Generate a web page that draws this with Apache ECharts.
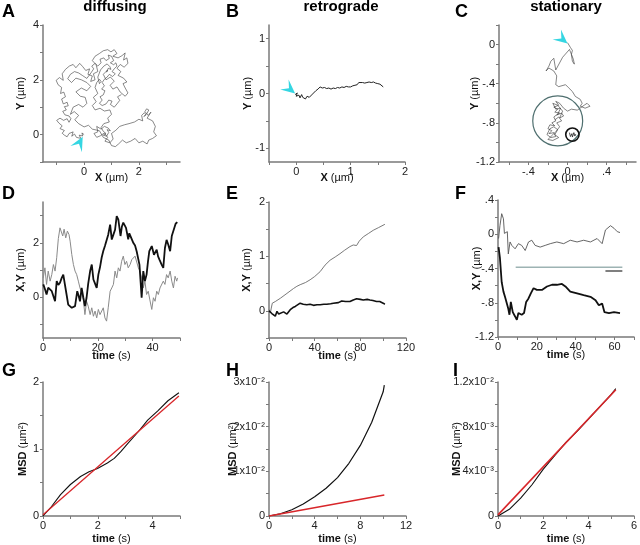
<!DOCTYPE html>
<html><head><meta charset="utf-8">
<script src="https://cdn.jsdelivr.net/npm/echarts@6/dist/echarts.min.js"></script>
<style>html,body{margin:0;padding:0;background:#fff}#c{width:640px;height:545px}</style>
</head><body><div id="c"></div>
<script>
// ---------- DATA ----------
const panelLetters = ['A','B','C','D','E','F','G','H','I'];
const columnTitles = ['diffusing','retrograde','stationary'];

const trajA = [[0,0],[-0.08,0.06],[-0.05,-0.05],[-0.18,-0.02],[-0.12,-0.14],[-0.28,-0.1],[-0.35,0.02],[-0.45,-0.06],[-0.4,0.1],[-0.55,0.04],[-0.62,-0.08],[-0.72,-0.02],[-0.8,0.05],[-0.72,0.15],[-0.88,0.22],[-0.8,0.32],[-0.92,0.42],[-1.0,0.52],[-0.88,0.6],[-0.75,0.52],[-0.62,0.58],[-0.55,0.45],[-0.48,0.58],[-0.55,0.68],[-0.7,0.72],[-0.78,0.85],[-0.65,0.9],[-0.72,1.02],[-0.58,1.05],[-0.62,1.18],[-0.76,1.12],[-0.82,1.3],[-0.68,1.38],[-0.74,1.55],[-0.86,1.5],[-0.82,1.72],[-0.95,1.82],[-1.02,1.98],[-0.9,2.08],[-0.76,1.98],[-0.8,2.22],[-0.68,2.38],[-0.54,2.5],[-0.4,2.56],[-0.3,2.44],[-0.16,2.6],[-0.05,2.48],[0.06,2.34],[0.2,2.4],[0.14,2.2],[0.3,2.14],[0.24,1.94],[0.4,2.0],[0.34,2.22],[0.5,2.3],[0.44,2.55],[0.3,2.7],[0.4,2.86],[0.56,2.96],[0.7,3.06],[0.86,3.1],[0.98,3.02],[1.1,3.1],[1.2,2.96],[1.05,2.86],[1.24,2.8],[1.38,2.88],[1.5,2.98],[1.44,2.72],[1.56,2.8],[1.6,2.6],[1.46,2.46],[1.32,2.56],[1.2,2.42],[1.34,2.3],[1.24,2.16],[1.44,2.06],[1.56,1.92],[1.42,1.86],[1.5,1.7],[1.6,1.52],[1.5,1.4],[1.32,1.55],[1.2,1.74],[1.05,1.66],[0.95,1.8],[1.1,1.95],[0.96,2.1],[0.8,2.0],[0.7,2.2],[0.86,2.36],[0.9,2.3],[0.82,2.28],[0.88,2.42],[0.98,2.38],[0.94,2.48],[0.84,2.58],[0.72,2.5],[0.6,2.36],[0.5,2.1],[0.56,1.86],[0.62,1.94],[0.56,2.02],[0.46,1.9],[0.4,1.72],[0.5,1.5],[0.34,1.36],[0.44,1.2],[0.3,1.06],[0.4,0.9],[0.58,0.96],[0.74,0.86],[0.94,0.9],[1.0,0.74],[0.86,0.6],[0.92,0.46],[0.72,0.4],[0.62,0.26],[0.7,0.12],[0.64,0.06],[0.76,0.16],[0.8,0.04],[0.7,-0.02],[0.82,-0.06],[0.9,0.08],[0.84,0.18],[0.96,0.14],[0.88,0.24],[0.74,0.3],[0.62,0.2],[0.46,0.3],[0.5,0.1],[0.36,0.04],[0.46,-0.1],[0.6,-0.04],[0.74,0.06],[0.86,-0.1],[0.76,-0.24],[0.94,-0.3],[1.06,-0.16],[1.0,0.04],[1.16,0.16],[1.3,0.3],[1.48,0.36],[1.64,0.4],[1.84,0.46],[2.0,0.56],[2.14,0.5],[2.1,0.7],[2.2,0.8],[2.26,0.72],[2.18,0.66],[2.3,0.78],[2.36,0.9],[2.28,0.94],[2.22,0.84],[2.24,0.86],[2.34,0.7],[2.44,0.82],[2.3,0.6],[2.5,0.5],[2.6,0.3],[2.54,0.1],[2.64,-0.04],[2.5,-0.14],[2.36,-0.2],[2.3,-0.34],[2.14,-0.24],[2.0,-0.3],[1.86,-0.14],[1.7,-0.24],[1.54,-0.3],[1.4,-0.2],[1.26,-0.34],[1.14,-0.44],[1.0,-0.4],[0.9,-0.2],[0.7,-0.1],[0.56,0.14],[0.3,0.2],[0.16,0.34],[0.0,0.28],[-0.2,0.4],[-0.34,0.54],[-0.2,0.7],[-0.36,0.84],[-0.5,0.74],[-0.4,1.0],[-0.2,1.1],[-0.04,1.0],[0.1,1.14],[0.04,1.36],[-0.14,1.4],[-0.3,1.56],[-0.1,1.7],[0.1,1.6],[0.24,1.76],[0.1,1.9],[-0.1,2.0],[-0.3,2.06],[-0.46,1.9],[-0.6,2.04],[-0.5,2.2],[-0.35,2.3],[-0.2,2.25],[-0.05,2.15],[0.1,2.05],[0.25,2.25],[0.35,2.4],[0.28,2.5],[0.4,2.6],[0.5,2.5],[0.62,2.62],[0.58,2.75],[0.72,2.8],[0.8,2.7],[0.92,2.78],[0.88,2.9],[1.0,2.86],[1.08,2.7],[0.96,2.62],[1.08,2.55],[1.16,2.62],[1.2,2.5],[1.1,2.4],[1.02,2.3],[1.14,2.22],[1.04,2.12],[0.92,2.2],[0.84,2.1],[0.74,2.02],[0.66,1.9],[0.74,1.78],[0.64,1.66],[0.76,1.6],[0.7,1.45],[0.58,1.38],[0.66,1.26],[0.56,1.14],[0.66,1.06],[0.8,1.12],[0.9,1.26],[1.02,1.22],[0.96,1.1],[1.1,1.0],[1.2,1.12],[1.3,1.25],[1.22,1.38],[1.36,1.46]];

const trajB = [[-0.02,-0.02],[0.02,0.01],[0.0,-0.05],[0.05,-0.03],[0.07,-0.08],[0.1,-0.02],[0.12,-0.07],[0.15,-0.04],[0.17,-0.1],[0.2,-0.05],[0.24,-0.07],[0.27,-0.04],[0.3,-0.01],[0.33,0.02],[0.36,0.05],[0.4,0.08],[0.44,0.12],[0.48,0.1],[0.52,0.11],[0.56,0.09],[0.6,0.1],[0.64,0.08],[0.68,0.1],[0.72,0.09],[0.76,0.11],[0.8,0.1],[0.84,0.12],[0.88,0.11],[0.92,0.13],[0.96,0.12],[1.0,0.12],[1.04,0.14],[1.08,0.15],[1.12,0.16],[1.15,0.2],[1.18,0.19],[1.22,0.2],[1.26,0.19],[1.3,0.2],[1.34,0.21],[1.38,0.2],[1.42,0.21],[1.46,0.19],[1.5,0.18],[1.54,0.17],[1.57,0.16],[1.6,0.12]];

const trajC = [[0.0,0.02],[0.03,-0.03],[0.05,-0.06],[0.04,-0.1],[0.06,-0.15],[0.07,-0.2],[0.05,-0.17],[0.04,-0.1],[0.02,-0.05],[-0.05,-0.13],[-0.12,-0.26],[-0.14,-0.14],[-0.17,-0.17],[-0.19,-0.22],[-0.22,-0.27],[-0.19,-0.24],[-0.14,-0.27],[-0.11,-0.32],[-0.12,-0.41],[-0.09,-0.43],[-0.02,-0.41],[0.01,-0.44],[0.05,-0.48],[0.08,-0.53],[0.13,-0.56],[0.15,-0.6],[0.13,-0.63],[0.18,-0.65],[0.23,-0.63],[0.2,-0.6],[0.17,-0.62],[0.1,-0.67],[0.04,-0.66],[0.0,-0.68],[-0.04,-0.65],[-0.08,-0.6],[-0.12,-0.58],[-0.09,-0.62],[-0.14,-0.64],[-0.1,-0.66],[-0.13,-0.69],[-0.08,-0.7],[-0.11,-0.72],[-0.06,-0.7],[-0.04,-0.73],[-0.08,-0.75],[-0.05,-0.68],[-0.1,-0.62],[-0.15,-0.6],[-0.12,-0.66],[-0.07,-0.65],[-0.1,-0.71],[-0.14,-0.74],[-0.12,-0.78],[-0.16,-0.8],[-0.13,-0.83],[-0.18,-0.82],[-0.2,-0.86],[-0.16,-0.88],[-0.19,-0.91],[-0.14,-0.9],[-0.12,-0.94],[-0.17,-0.95],[-0.21,-0.92],[-0.18,-0.86],[-0.14,-0.84],[-0.1,-0.87],[-0.13,-0.92],[-0.09,-0.95],[-0.15,-0.98],[-0.2,-0.97],[-0.16,-0.93],[-0.12,-0.89],[-0.08,-0.84],[-0.11,-0.8],[-0.06,-0.78],[-0.09,-0.74],[-0.13,-0.77]];
const circlesC = [[-0.1,-0.78,0.255],[0.05,-0.92,0.068]];
const insetC = [[0.02,-0.9],[0.03,-0.94],[0.045,-0.91],[0.05,-0.945],[0.065,-0.9],[0.075,-0.935],[0.085,-0.915]];

// tip position of arrowheads [x, y]
const arrowA = [-0.05,-0.08], arrowB = [-0.02,0.0], arrowC = [0.0,0.01];

const dBlack = [[0.1,0.47],[0.7,0.3],[1.3,0.1],[1.9,0.35],[2.6,0.4],[3.2,0.22],[3.8,0.16],[4.4,-0.15],[5.0,0.59],[5.6,0.45],[6.2,0.53],[6.8,0.7],[7.4,0.83],[8.0,0.77],[8.6,0.1],[9.2,-0.27],[9.8,-0.2],[10.5,-0.39],[11.1,-0.45],[11.7,-0.33],[12.5,0.22],[13.0,0.05],[13.5,-0.15],[14.1,0.34],[14.7,0.0],[15.3,-0.33],[15.9,-0.02],[16.5,0.5],[17.2,0.96],[17.8,1.2],[18.4,0.65],[19.0,0.5],[19.6,0.34],[20.2,0.83],[20.8,1.1],[21.4,1.45],[22.0,1.7],[22.6,1.88],[23.2,1.94],[23.8,2.3],[24.5,2.67],[25.1,2.12],[25.7,2.3],[26.3,2.48],[26.9,2.98],[27.5,2.85],[28.3,2.25],[28.8,2.6],[29.3,2.74],[30.3,2.55],[31.1,2.13],[31.5,2.35],[32.0,2.37],[33.0,1.99],[33.6,1.9],[34.2,1.68],[35.2,1.2],[35.6,0.6],[36.0,-0.02],[36.6,0.96],[37.2,0.59],[37.8,0.83],[38.3,1.3],[38.8,1.69],[39.7,1.88],[40.5,1.56],[41.5,1.75],[42.0,1.5],[42.5,1.38],[43.3,1.2],[43.9,1.08],[44.5,1.81],[45.1,2.11],[45.7,1.94],[46.4,1.69],[47.0,2.25],[47.6,2.19],[48.4,2.7],[49.0,2.76]];
const dGray = [[0.1,0.71],[0.7,1.08],[1.3,0.47],[1.9,0.96],[2.6,0.59],[3.2,0.83],[3.8,1.2],[4.4,0.96],[5.0,1.45],[5.6,2.16],[6.2,2.55],[6.6,2.61],[7.2,2.25],[7.7,2.5],[8.3,2.18],[8.9,2.43],[9.5,2.3],[9.9,2.06],[10.5,1.57],[11.1,1.2],[11.7,0.96],[12.3,0.83],[12.9,0.59],[13.5,0.34],[14.1,0.16],[14.7,-0.09],[15.3,-0.64],[15.9,-0.15],[16.5,-0.33],[17.2,-0.64],[17.8,-0.39],[18.4,-0.7],[19.0,-0.51],[19.6,-0.76],[20.2,-0.45],[20.8,-0.64],[21.4,-0.64],[22.0,-0.39],[22.6,-0.76],[23.2,-0.88],[23.8,-0.39],[24.5,0.22],[25.1,0.34],[25.7,0.47],[26.3,0.96],[26.9,0.71],[27.5,1.08],[28.1,0.96],[28.7,1.32],[29.3,1.51],[29.9,1.2],[30.5,1.32],[31.1,1.08],[31.8,1.2],[32.4,1.38],[33.0,1.32],[33.6,1.51],[34.2,1.57],[34.8,1.08],[35.4,0.96],[36.0,0.71],[36.6,0.34],[37.2,0.59],[37.8,0.1],[38.4,0.22],[39.0,-0.1],[39.7,-0.45],[40.3,-0.02],[40.9,-0.15],[41.5,0.22],[42.1,0.1],[42.7,0.34],[43.3,0.28],[43.9,0.59],[44.5,0.47],[45.1,0.83],[45.7,0.71],[46.4,0.96],[47.0,0.59],[47.6,0.34],[48.2,0.77],[48.8,0.59],[49.1,0.71]];

const eGray = [[0,0.02],[1.2,-0.04],[2,0.05],[2.9,0.14],[5.5,0.17],[9.9,0.23],[15.7,0.32],[21.5,0.41],[24.4,0.45],[27.3,0.48],[32,0.52],[36.0,0.57],[40,0.63],[44.8,0.72],[49.1,0.84],[53.5,0.93],[58,0.99],[62.2,1.05],[66,1.11],[70.9,1.18],[73.8,1.21],[76.7,1.2],[79,1.28],[82.6,1.36],[87,1.42],[91.3,1.48],[96,1.53],[101.5,1.59]];
const eBlack = [[0,0],[1.2,-0.02],[2.5,-0.05],[4.1,-0.07],[5.5,-0.1],[7,-0.01],[8.5,-0.06],[9.9,-0.04],[12.8,-0.02],[15.7,-0.06],[18.6,0.02],[21,0.06],[23,0.08],[27.3,0.14],[30,0.12],[33.1,0.11],[36,0.12],[39,0.1],[42,0.11],[44.8,0.11],[48,0.12],[50.6,0.12],[54,0.13],[56.4,0.14],[60.8,0.15],[63.7,0.18],[67,0.17],[70.9,0.17],[73.8,0.2],[76.7,0.22],[80,0.21],[82.6,0.2],[86,0.21],[88.4,0.2],[91,0.19],[94.2,0.17],[97,0.17],[100,0.14],[101.5,0.12]];

const fGray = [[0.3,-0.05],[1,0.1],[1.9,0.24],[2.8,0.18],[3.3,0.01],[4.1,-0.01],[4.8,0.03],[5.3,-0.23],[6.2,-0.09],[7.1,-0.13],[8.8,-0.17],[10.5,-0.11],[12.2,-0.13],[14,-0.19],[15.7,-0.09],[17.4,-0.07],[19.1,-0.13],[21.7,-0.15],[24.3,-0.13],[26.9,-0.11],[30.3,-0.09],[33.8,-0.11],[37.2,-0.07],[40.7,-0.09],[44.1,-0.07],[47.6,-0.09],[51,-0.05],[53.6,-0.11],[55.3,0.05],[57.9,0.1],[59.7,0.07],[61.4,0.03],[62.8,0.02]];
const fBlack = [[0.3,-0.15],[1,-0.28],[1.9,-0.56],[2.8,-0.67],[3.6,-0.73],[4.5,-0.71],[5.3,-0.87],[5.9,-0.94],[6.6,-0.79],[7.6,-0.91],[8.8,-0.96],[9.7,-1.0],[10.5,-0.92],[12.2,-0.94],[13.4,-0.92],[14.5,-0.79],[15.7,-0.75],[16.9,-0.69],[18.3,-0.63],[19.1,-0.61],[20,-0.65],[22.6,-0.65],[25.2,-0.61],[27.8,-0.59],[30.3,-0.59],[32.9,-0.58],[34.7,-0.61],[37.2,-0.67],[40.7,-0.69],[44.1,-0.71],[47.6,-0.73],[50.2,-0.77],[51.9,-0.83],[53.6,-0.81],[54.8,-0.91],[57.1,-0.92],[59.7,-0.91],[62.8,-0.92]];
const fBarLong = [[9.1,-0.385],[64,-0.385]];
const fBarShort = [[55.3,-0.43],[64,-0.43]];

const gBlack = [[0,0],[0.27,0.12],[0.64,0.32],[1.0,0.47],[1.37,0.59],[1.68,0.66],[1.99,0.71],[2.35,0.79],[2.6,0.86],[2.84,0.96],[3.09,1.08],[3.46,1.25],[3.82,1.43],[4.19,1.57],[4.56,1.72],[4.96,1.84]];
const gRed = [[0,0.02],[4.96,1.79]];
const hBlack = [[0,0],[1,0.0005],[2,0.0014],[3,0.0027],[4,0.0043],[5,0.0062],[6,0.0086],[7,0.0118],[8,0.0158],[9,0.021],[10,0.0278],[10.1,0.0293]];
const hRed = [[0,0],[10.1,0.0047]];
const iBlack = [[0,0],[0.5,0.0006],[1,0.0016],[1.5,0.0028],[2,0.0042],[2.5,0.0054],[3,0.0066],[3.5,0.0076],[4,0.0087],[4.5,0.0098],[5,0.0109],[5.2,0.0114]];
const iRed = [[0,0.0001],[5.2,0.0113]];

// axis ranges, ticks and labels
const xTicks = {
  A:{min:-1.5,max:3.5,ticks:[-1,0,1,2,3],labels:[0,2]},
  B:{min:-0.5,max:2,ticks:[-0.5,0,0.5,1,1.5,2],labels:[0,1,2]},
  C:{min:-0.7,max:0.7,ticks:[-0.6,-0.4,-0.2,0,0.2,0.4,0.6],labels:[-0.4,0,0.4]},
  D:{min:0,max:50,ticks:[0,10,20,30,40,50],labels:[0,20,40]},
  E:{min:0,max:120,ticks:[0,20,40,60,80,100,120],labels:[0,40,80,120]},
  F:{min:0,max:70,ticks:[0,10,20,30,40,50,60,70],labels:[0,20,40,60]},
  G:{min:0,max:5,ticks:[0,1,2,3,4,5],labels:[0,2,4]},
  H:{min:0,max:12,ticks:[0,2,4,6,8,10,12],labels:[0,4,8,12]},
  I:{min:0,max:6,ticks:[0,1,2,3,4,5,6],labels:[0,2,4,6]}
};
const yTicks = {
  A:{min:-1,max:4,ticks:[-1,0,1,2,3,4],labels:[0,2,4]},
  B:{min:-1.25,max:1.25,ticks:[-1,-0.5,0,0.5,1],labels:[-1,0,1]},
  C:{min:-1.2,max:0.2,ticks:[-1.2,-1,-0.8,-0.6,-0.4,-0.2,0,0.2],labels:[-1.2,-0.8,-0.4,0]},
  D:{min:-1.5,max:3.5,ticks:[-1,0,1,2,3],labels:[0,2]},
  E:{min:-0.5,max:2,ticks:[-0.5,0,0.5,1,1.5,2],labels:[0,1,2]},
  F:{min:-1.2,max:0.4,ticks:[-1.2,-1,-0.8,-0.6,-0.4,-0.2,0,0.2,0.4],labels:[-1.2,-0.8,-0.4,0,0.4]},
  G:{min:0,max:2,ticks:[0,0.5,1,1.5,2],labels:[0,1,2]},
  H:{min:0,max:0.03,ticks:[0,0.005,0.01,0.015,0.02,0.025,0.03],labels:[0,0.01,0.02,0.03]},
  I:{min:0,max:0.012,ticks:[0,0.002,0.004,0.006,0.008,0.01,0.012],labels:[0,0.004,0.008,0.012]}
};
const sciLabels = {'0.01':'1x10⁻²','0.02':'2x10⁻²','0.03':'3x10⁻²','0.004':'4x10⁻³','0.008':'8x10⁻³','0.012':'1.2x10⁻²'};
const xNames = ['X','X','X','time','time','time','time','time','time'];
const xUnits = [' (µm)',' (µm)',' (µm)',' (s)',' (s)',' (s)',' (s)',' (s)',' (s)'];
const yNames = ['Y','Y','Y','X,Y','X,Y','X,Y','MSD','MSD','MSD'];
const yUnits = [' (µm)',' (µm)',' (µm)',' (µm)',' (µm)',' (µm)',' (µm²)',' (µm²)',' (µm²)'];

// ---------- LAYOUT / STYLE ----------
const FONT = 'Liberation Sans';
const grids = [
  {left:43,top:25,width:137,height:137},
  {left:269,top:25,width:136,height:137},
  {left:499,top:25,width:137,height:137},
  {left:43,top:202,width:137,height:136},
  {left:269,top:202,width:137,height:136},
  {left:498,top:200,width:136,height:137},
  {left:43,top:382,width:137,height:136},
  {left:269,top:382,width:137,height:136},
  {left:498,top:382,width:139,height:136}
];
const yNameGap = [17,16,19,17,17,16,15,31,36];
const xNameGap = [10,10,10,12,12,12,17,17,17];
const AX = '#7a7a7a';

function fmtY(letter, v){
  if (letter==='H' || letter==='I'){ if (v===0) return '0'; const k = String(+v.toFixed(4)); return sciLabels[k] || ''; }
  return fmtPlain(letter, v);
}
function fmtPlain(letter, v){
  if (letter==='C' || letter==='F'){
    if (Math.abs(v) < 1e-9) return '0';
    const s = String(+Math.abs(v).toFixed(2));
    return (v<0?'-':'') + (s.startsWith('0.') ? s.slice(1) : s);
  }
  return String(+v.toFixed(3));
}

const nameStyle = {fontFamily:FONT,fontSize:11,color:'#111',rich:{b:{fontFamily:FONT,fontSize:11,fontWeight:'bold',color:'#111'}}};
const xAxes = [], yAxes = [];
panelLetters.forEach((L,i)=>{
  const xt = xTicks[L], yt = yTicks[L];
  xAxes.push({
    type:'value', gridIndex:i, min:xt.min, max:xt.max,
    name:'{b|'+xNames[i]+'}'+xUnits[i], nameLocation:'middle', nameGap:xNameGap[i], nameMoveOverlap:false,
    nameTextStyle:nameStyle,
    axisLine:{show:true,onZero:false,lineStyle:{color:AX,width:1.5}},
    axisTick:{show:true,length:3,customValues:xt.ticks,lineStyle:{color:AX,width:1}},
    axisLabel:{customValues:xt.labels,interval:0,hideOverlap:false,margin:4,fontFamily:FONT,fontSize:11,color:'#222',formatter:v=>fmtPlain(L,v)},
    splitLine:{show:false}
  });
  yAxes.push({
    type:'value', gridIndex:i, min:yt.min, max:yt.max,
    name:'{b|'+yNames[i]+'}'+yUnits[i], nameLocation:'middle', nameGap:yNameGap[i], nameRotate:90, nameMoveOverlap:false,
    nameTextStyle:nameStyle,
    axisLine:{show:true,onZero:false,lineStyle:{color:AX,width:1.5}},
    axisTick:{show:true,length:3,customValues:yt.ticks,lineStyle:{color:AX,width:1}},
    axisLabel:{customValues:yt.labels,interval:0,hideOverlap:false,margin:4,fontFamily:FONT,fontSize:11,color:'#222',formatter:v=>fmtY(L,v)},
    splitLine:{show:false}
  });
});

function line(idx, data, color, width, z){
  return {type:'line', xAxisIndex:idx, yAxisIndex:idx, data, showSymbol:false, symbol:'none',
    lineStyle:{color, width}, z:z||2, silent:true, animation:false};
}
function arrow(idx, tip, angleDeg){
  return {type:'custom', xAxisIndex:idx, yAxisIndex:idx, data:[tip], z:10, silent:true,
    renderItem:(p, api)=>{
      const c = api.coord([api.value(0), api.value(1)]);
      const a = angleDeg*Math.PI/180, ca=Math.cos(a), sa=Math.sin(a);
      const local = [[0,0],[-14,-6.5],[-8,0],[-14,6.5]];
      const pts = local.map(([x,y])=>[c[0]+x*ca-y*sa, c[1]+x*sa+y*ca]);
      return {type:'polygon', shape:{points:pts}, style:{fill:'#35d6e2'}};
    }};
}
const circleSeries = {type:'custom', xAxisIndex:2, yAxisIndex:2, data:circlesC, z:3, silent:true,
  renderItem:(p, api)=>{
    const c = api.coord([api.value(0), api.value(1)]);
    const r = api.size([api.value(2), 0])[0];
    const big = p.dataIndex === 0;
    return {type:'circle', shape:{cx:c[0], cy:c[1], r}, style:{fill:'none', stroke: big ? '#4f6f6f' : '#111', lineWidth: big ? 1.2 : 1.6}};
  }};

const series = [
  line(0, trajA, '#3a3a3a', 0.6),
  arrow(0, arrowA, -62),
  line(1, trajB, '#222', 1),
  arrow(1, arrowB, 40),
  line(2, trajC, '#333', 0.6),
  circleSeries,
  line(2, insetC, '#222', 0.8),
  arrow(2, arrowC, 40),
  line(3, dGray, '#8a8a8a', 1),
  line(3, dBlack, '#111', 1.8, 3),
  line(4, eGray, '#6a6a6a', 0.9),
  line(4, eBlack, '#111', 1.6, 3),
  line(5, fGray, '#555', 0.9),
  line(5, fBlack, '#111', 1.8, 3),
  line(5, fBarLong, '#9db3b3', 1.5),
  line(5, fBarShort, '#555', 1.5),
  line(6, gBlack, '#111', 1.1),
  line(6, gRed, '#d8262a', 1.3, 3),
  line(7, hBlack, '#111', 1.2),
  line(7, hRed, '#d8262a', 1.5, 3),
  line(8, iBlack, '#111', 1.1),
  line(8, iRed, '#d8262a', 1.6, 3)
];

const letterPos = [[2,12],[226,12],[455,12],[2,194],[226,194],[455,194],[2,371],[226,371],[453,371]];
const titleX = [115,341,566];
const graphic = [];
panelLetters.forEach((L,i)=>graphic.push({type:'text', x:letterPos[i][0], y:letterPos[i][1],
  style:{text:L, font:'bold 18px '+FONT, fill:'#000', textVerticalAlign:'middle'}}));
columnTitles.forEach((t,i)=>graphic.push({type:'text', x:titleX[i], y:7,
  style:{text:t, font:'bold 15px '+FONT, fill:'#000', textAlign:'center', textVerticalAlign:'middle'}}));

const chart = echarts.init(document.getElementById('c'), null, {renderer:'canvas'});
chart.setOption({animation:false, backgroundColor:'#fff', grid:grids, xAxis:xAxes, yAxis:yAxes, series, graphic});
</script></body></html>
